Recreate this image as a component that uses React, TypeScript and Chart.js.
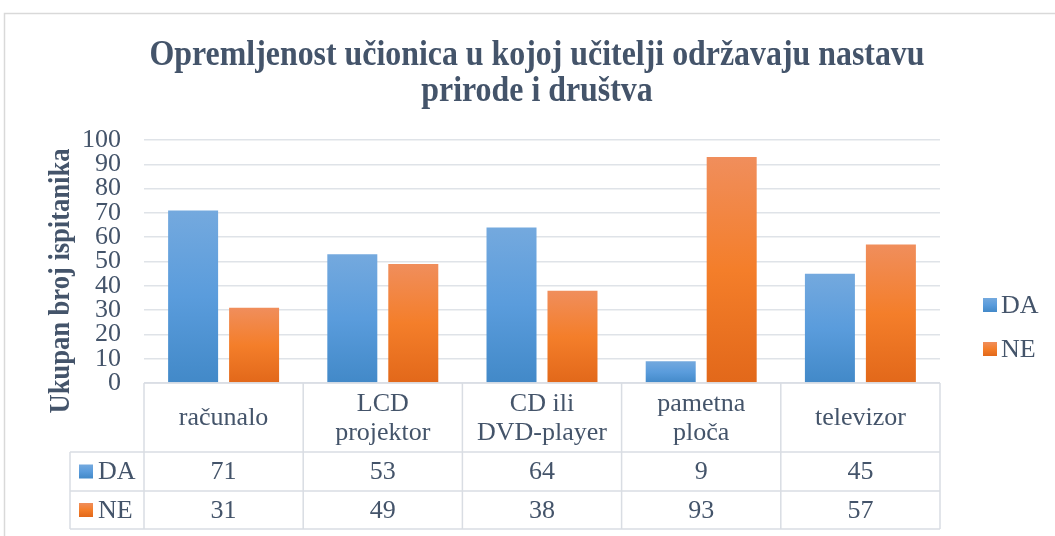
import React, { useEffect, useRef } from "react";
import { Chart, registerables } from "chart.js";

Chart.register(...registerables);

// ---- data ----
const categories: string[][] = [
  ["računalo"],
  ["LCD", "projektor"],
  ["CD ili", "DVD-player"],
  ["pametna", "ploča"],
  ["televizor"],
];
const seriesNames = ["DA", "NE"];
const daValues = [71, 53, 64, 9, 45];
const neValues = [31, 49, 38, 93, 57];
const yMin = 0;
const yMax = 100;
const yStep = 10;
const titleLines = [
  "Opremljenost učionica u kojoj učitelji održavaju nastavu",
  "prirode i društva",
];
const yAxisTitle = "Ukupan broj ispitanika";

// ---- style ----
const TEXT = "#44546a";
const GRID = "#dfe3e8";
const FRAME = "#d9d9d9";
const SERIF = '"Liberation Serif", "Times New Roman", serif';
const blueStops = ["#74a9de", "#5a9cdc", "#4289c8"];
const orangeStops = ["#f08e5c", "#f47e2a", "#e2681a"];

function makeGrad(ctx: CanvasRenderingContext2D, top: number, bottom: number, stops: string[]) {
  const g = ctx.createLinearGradient(0, top, 0, bottom);
  g.addColorStop(0, stops[0]);
  g.addColorStop(0.5, stops[1]);
  g.addColorStop(1, stops[2]);
  return g;
}

function barFill(stops: string[]) {
  return (c: any) => {
    const chart = c.chart;
    const y = chart.scales?.y;
    if (!chart.chartArea || !y || c.raw == null) return stops[1];
    const top = y.getPixelForValue(c.raw);
    const bottom = y.getPixelForValue(0);
    return makeGrad(chart.ctx, top, bottom, stops);
  };
}

const decorPlugin = {
  id: "decor",
  afterDraw(chart: any) {
    const ctx: CanvasRenderingContext2D = chart.ctx;
    const area = chart.chartArea;
    const xs = chart.scales.x;
    ctx.save();

    // outer frame
    ctx.strokeStyle = FRAME;
    ctx.lineWidth = 1.5;
    ctx.strokeRect(4.5, 13.5, 1200, 700);

    // title (slightly condensed like the reference)
    ctx.fillStyle = TEXT;
    ctx.font = `bold 35px ${SERIF}`;
    ctx.textAlign = "center";
    ctx.textBaseline = "alphabetic";
    const w0 = ctx.measureText(titleLines[0]).width;
    const sx = 775 / w0;
    const cx = 537;
    const baselines = [65, 101];
    titleLines.forEach((line, i) => {
      ctx.save();
      ctx.translate(cx, baselines[i]);
      ctx.scale(sx, 1);
      ctx.fillText(line, 0, 0);
      ctx.restore();
    });

    // y axis title
    ctx.save();
    ctx.font = `bold 29px ${SERIF}`;
    const wt = ctx.measureText(yAxisTitle).width;
    ctx.translate(69, 281);
    ctx.rotate(-Math.PI / 2);
    ctx.scale(265 / wt, 1);
    ctx.textAlign = "center";
    ctx.textBaseline = "alphabetic";
    ctx.fillText(yAxisTitle, 0, 0);
    ctx.restore();

    // data table
    const n = categories.length;
    const catW = (area.right - area.left) / n;
    const headTop = area.bottom;
    const headBottom = 452;
    const row1Bottom = 491;
    const row2Bottom = 529;
    const legLeft = 70;
    ctx.strokeStyle = "#d9dde3";
    ctx.lineWidth = 1.5;
    ctx.beginPath();
    ctx.moveTo(area.left, headTop);
    ctx.lineTo(area.right, headTop);
    [headBottom, row1Bottom, row2Bottom].forEach((yy) => {
      ctx.moveTo(legLeft, yy);
      ctx.lineTo(area.right, yy);
    });
    ctx.moveTo(legLeft, headBottom);
    ctx.lineTo(legLeft, row2Bottom);
    for (let i = 0; i <= n; i++) {
      const xx = area.left + i * catW;
      ctx.moveTo(xx, headTop);
      ctx.lineTo(xx, row2Bottom);
    }
    ctx.stroke();

    ctx.fillStyle = TEXT;
    ctx.font = `26px ${SERIF}`;
    ctx.textAlign = "center";
    ctx.textBaseline = "middle";
    const headMid = (headTop + headBottom) / 2;
    categories.forEach((lines, i) => {
      const x = xs.getPixelForValue(i);
      const lh = 29;
      lines.forEach((ln, j) => {
        const yy = headMid + (j - (lines.length - 1) / 2) * lh;
        ctx.fillText(ln, x, yy + 1);
      });
    });
    const rowMids = [(headBottom + row1Bottom) / 2, (row1Bottom + row2Bottom) / 2];
    const allVals = [daValues, neValues];
    const allStops = [blueStops, orangeStops];
    allVals.forEach((vals, r) => {
      vals.forEach((v, i) => {
        ctx.fillStyle = TEXT;
        ctx.fillText(String(v), xs.getPixelForValue(i), rowMids[r] + 1);
      });
      // legend key in table
      const sq = 14;
      ctx.fillStyle = makeGrad(ctx, rowMids[r] - sq / 2, rowMids[r] + sq / 2, allStops[r]);
      ctx.fillRect(79, rowMids[r] - sq / 2, sq, sq);
      ctx.fillStyle = TEXT;
      ctx.textAlign = "left";
      ctx.fillText(seriesNames[r], 98, rowMids[r] + 1);
      ctx.textAlign = "center";
    });

    // right legend
    const legY = [305, 349];
    seriesNames.forEach((name, r) => {
      const sq = 14;
      ctx.fillStyle = makeGrad(ctx, legY[r] - sq / 2, legY[r] + sq / 2, allStops[r]);
      ctx.fillRect(983, legY[r] - sq / 2, sq, sq);
      ctx.fillStyle = TEXT;
      ctx.textAlign = "left";
      ctx.textBaseline = "middle";
      ctx.font = `26px ${SERIF}`;
      ctx.fillText(name, 1001, legY[r] + 1);
    });

    ctx.restore();
  },
};

export default function App() {
  const canvasRef = useRef<HTMLCanvasElement | null>(null);

  useEffect(() => {
    if (!canvasRef.current) return;
    const chart = new Chart(canvasRef.current, {
      type: "bar",
      data: {
        labels: categories.map((c) => c.join(" ")),
        datasets: [
          {
            label: seriesNames[0],
            data: daValues,
            backgroundColor: barFill(blueStops),
            borderWidth: 0,
            categoryPercentage: 0.766,
            barPercentage: 0.82,
          },
          {
            label: seriesNames[1],
            data: neValues,
            backgroundColor: barFill(orangeStops),
            borderWidth: 0,
            categoryPercentage: 0.766,
            barPercentage: 0.82,
          },
        ],
      },
      options: {
        animation: false,
        responsive: false,
        layout: { padding: { top: 140, right: 115, bottom: 153, left: 0 } },
        plugins: {
          legend: { display: false },
          title: { display: false },
          tooltip: { enabled: false },
        },
        scales: {
          x: { display: false },
          y: {
            min: yMin,
            max: yMax,
            afterFit: (scale: any) => {
              scale.width = 144;
            },
            ticks: {
              stepSize: yStep,
              autoSkip: false,
              color: TEXT,
              padding: 23,
              font: { family: SERIF, size: 26 },
            },
            grid: { color: GRID, lineWidth: 1.5, drawTicks: false },
            border: { display: false },
          },
        },
      },
      plugins: [decorPlugin],
    });
    return () => chart.destroy();
  }, []);

  return (
    <div style={{ position: "absolute", left: 0, top: 0, width: 1055, height: 536, background: "#fff" }}>
      <canvas ref={canvasRef} width={1055} height={536} />
    </div>
  );
}
